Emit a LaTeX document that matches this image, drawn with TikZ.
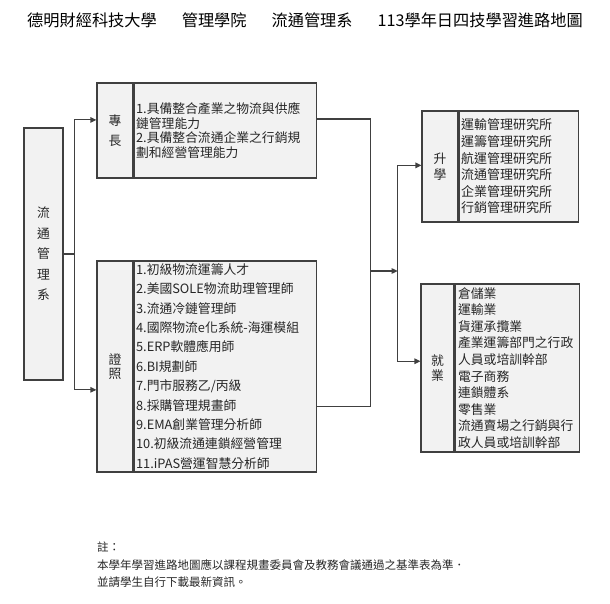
\documentclass[tikz,border=0pt]{standalone}
\usepackage{fontspec}
\setmainfont{Noto Sans CJK TC}
\usepackage{tikz}
\usetikzlibrary{arrows.meta,positioning,calc}
\usepackage{xcolor}
\definecolor{ink}{RGB}{64,64,64}
\definecolor{soft}{RGB}{242,242,242}
\definecolor{txt}{RGB}{38,38,38}
\tikzset{
  title/.style={font=\fontsize{16.2}{18}\selectfont,text=black,inner sep=0pt},
  lab/.style={draw=ink,line width=1.1pt,fill=soft,inner sep=0pt,align=center,text=txt,
    font=\fontsize{12.8}{15}\selectfont},
  body/.style={draw=ink,line width=1.1pt,fill=soft,inner xsep=2pt,inner ysep=0pt,
    align=left,text=txt},
  arr/.style={-{Triangle[length=6pt,width=5.5pt]},line width=1.1pt,ink},
  wire/.style={line width=1.1pt,ink},
  note/.style={font=\fontsize{11.5}{17.5}\selectfont,align=left,text=txt,inner sep=0pt},
}

\begin{document}
\begin{tikzpicture}[x=1pt,y=-1pt]
  \useasboundingbox (0,0) rectangle (610,604);
  \node[title] (ttl) at (305,20) {德明財經科技大學\hspace{25pt}管理學院\hspace{25pt}流通管理系\hspace{25pt}113學年日四技學習進路地圖};

  \node[lab,minimum width=39pt,minimum height=252pt,font=\fontsize{12.8}{20.5}\selectfont] (dept) at (43.5,254) {流\\通\\管\\理\\系};

  \node[lab,minimum width=36pt,minimum height=95pt,font=\fontsize{12.8}{20}\selectfont] (zcL) at (115,130.5) {專\\長};
  \node[body,right=0pt of zcL,minimum height=95pt,text width=178pt,
    font=\fontsize{12.8}{14.8}\selectfont] (zc)
    {1.具備整合產業之物流與供應\\鏈管理能力\\2.具備整合流通企業之行銷規\\劃和經營管理能力};

  \node[lab,minimum width=36pt,minimum height=211pt,font=\fontsize{12.8}{14.5}\selectfont] (zpL) at (115,366.5) {證\\照};
  \node[body,right=0pt of zpL,minimum height=211pt,text width=178pt,
    font=\fontsize{12.8}{19.4}\selectfont] (zp)
    {1.初級物流運籌人才\\2.美國SOLE物流助理管理師\\3.流通冷鏈管理師\\4.國際物流e化系統-海運模組\\
     5.ERP軟體應用師\\6.BI規劃師\\7.門市服務乙/丙級\\8.採購管理規畫師\\9.EMA創業管理分析師\\
     10.初級流通連鎖經營管理\\11.iPAS營運智慧分析師};

  \node[lab,minimum width=36pt,minimum height=111pt,font=\fontsize{12.8}{15.5}\selectfont] (sxL) at (440,166.5) {升\\學};
  \node[body,right=0pt of sxL,minimum height=111pt,text width=115pt,
    font=\fontsize{13}{16.6}\selectfont] (sx)
    {運輸管理研究所\\運籌管理研究所\\航運管理研究所\\流通管理研究所\\企業管理研究所\\行銷管理研究所};

  \node[lab,minimum width=33pt,minimum height=168pt,font=\fontsize{12.8}{14.5}\selectfont] (jyL) at (437.5,368) {就\\業};
  \node[body,right=0pt of jyL,minimum height=168pt,text width=118pt,inner xsep=3pt,
    font=\fontsize{12.8}{16.6}\selectfont] (jy)
    {倉儲業\\運輸業\\貨運承攬業\\產業運籌部門之行政\\人員或培訓幹部\\電子商務\\連鎖體系\\零售業\\
     流通賣場之行銷與行\\政人員或培訓幹部};

  \coordinate (split) at ($(dept.east)+(11,0)$);
  \draw[wire] (dept.east) -- (split);
  \draw[arr] (split) |- ($(zcL.north west)!.39!(zcL.south west)$);
  \draw[arr] (split) |- ($(zpL.north west)!.61!(zpL.south west)$);

  \draw[wire] ($(zc.north east)!.38!(zc.south east)$) -- ++(54,0) coordinate (join)
    |- ($(zp.north east)!.69!(zp.south east)$);
  \coordinate (mid) at (join |- 0,271);
  \coordinate (fork) at ($(mid)+(27,0)$);
  \draw[arr] (mid) -- (fork);
  \draw[arr] (fork) |- ($(sxL.north west)!.49!(sxL.south west)$);
  \draw[arr] (fork) |- ($(jyL.north west)!.46!(jyL.south west)$);

  \node[note,anchor=north west] (nt) at (97,542)
    {註：\\本學年學習進路地圖應以課程規畫委員會及教務會議通過之基準表為準．\\並請學生自行下載最新資訊。};
\end{tikzpicture}
\end{document}
